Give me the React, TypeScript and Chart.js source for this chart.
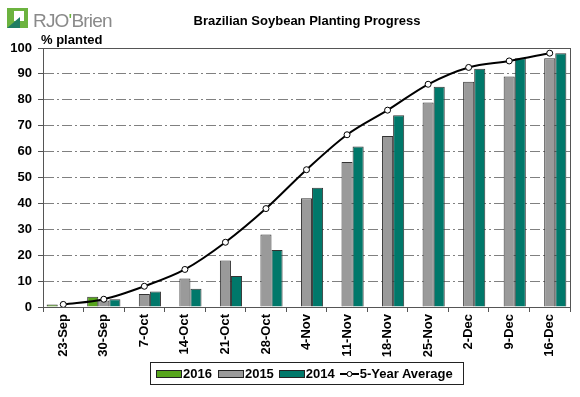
import React, { useEffect, useRef } from 'react';
import { Chart, registerables } from 'chart.js';

Chart.register(...registerables);

const categories = ['23-Sep', '30-Sep', '7-Oct', '14-Oct', '21-Oct', '28-Oct', '4-Nov', '11-Nov', '18-Nov', '25-Nov', '2-Dec', '9-Dec', '16-Dec'];
const series2016: (number | null)[] = [1, 4, null, null, null, null, null, null, null, null, null, null, null];
const series2015 = [0, 2.5, 5, 11, 18, 28, 42, 56, 66, 79, 87, 89, 96];
const series2014 = [0, 3, 6, 7, 12, 22, 46, 62, 74, 85, 92, 96, 98];
const avg5Year = [1, 3, 8, 14.5, 25, 38, 53, 66.5, 76, 86, 92.5, 95, 98];
const yMin = 0;
const yMax = 100;
const yStep = 10;

const GREEN = '#57a51c';
const GRAY = '#9a9a9a';
const TEAL = '#00786a';
const FONT = "'Liberation Sans', Arial, sans-serif";

const plotBorder = {
  id: 'plotBorder',
  beforeDatasetsDraw(chart: any) {
    const { ctx, chartArea } = chart;
    ctx.save();
    ctx.strokeStyle = '#555555';
    ctx.lineWidth = 1;
    ctx.strokeRect(Math.round(chartArea.left) + 0.5, Math.round(chartArea.top) + 0.5, Math.round(chartArea.right - chartArea.left), Math.round(chartArea.bottom - chartArea.top));
    ctx.restore();
  },
};

function Swatch({ color }: { color: string }) {
  return <div style={{ width: 24, height: 6, background: color, border: '1px solid #222', boxSizing: 'content-box' }} />;
}

export default function App() {
  const canvasRef = useRef<HTMLCanvasElement>(null);
  useEffect(() => {
    const c = canvasRef.current!;
    const chart = new Chart(c, {
      type: 'bar',
      data: {
        labels: categories,
        datasets: [
          { type: 'line', label: '5-Year Average', data: avg5Year, borderColor: '#000', borderWidth: 2, pointRadius: 3, pointBackgroundColor: '#fff', pointBorderColor: '#000', pointBorderWidth: 1, tension: 0.4, cubicInterpolationMode: 'monotone', order: 0 } as any,
          { label: '2016', data: series2016, backgroundColor: GREEN, borderColor: '#333', borderWidth: 1, borderSkipped: 'bottom', categoryPercentage: 0.82, barPercentage: 1, order: 1 } as any,
          { label: '2015', data: series2015, backgroundColor: GRAY, borderColor: '#333', borderWidth: 1, borderSkipped: 'bottom', categoryPercentage: 0.82, barPercentage: 1, order: 1 } as any,
          { label: '2014', data: series2014, backgroundColor: TEAL, borderColor: '#333', borderWidth: 1, borderSkipped: 'bottom', categoryPercentage: 0.82, barPercentage: 1, order: 1 } as any,
        ],
      },
      options: {
        responsive: false,
        animation: false,
        devicePixelRatio: 1,
        layout: { padding: { top: 48, right: 10, left: 0, bottom: 0 } },
        plugins: { legend: { display: false }, title: { display: false }, tooltip: { enabled: false } },
        scales: {
          x: {
            offset: true,
            grid: { offset: true, drawOnChartArea: false, drawTicks: true, tickLength: 5, tickColor: '#555' },
            border: { display: true, color: '#555', width: 1 },
            ticks: { autoSkip: false, maxRotation: 90, minRotation: 90, padding: 2, color: '#000', font: { family: FONT, size: 13, weight: 'bold' } },
            afterFit: (s: any) => { s.height = 90; },
          },
          y: {
            min: yMin,
            max: yMax,
            grid: {
              color: (ctx: any) => (ctx.tick && (ctx.tick.value === yMin || ctx.tick.value === yMax) ? 'rgba(0,0,0,0)' : '#808080'),
              tickColor: '#555',
              tickLength: 5,
              lineWidth: 1,
            },
            border: { display: true, color: '#555', width: 1, dash: [10, 3, 2, 3] },
            ticks: { stepSize: yStep, padding: 6, color: '#000', font: { family: FONT, size: 13, weight: 'bold' } },
            afterFit: (s: any) => { s.width = 43; },
          },
        },
      },
      plugins: [plotBorder],
    } as any);
    return () => chart.destroy();
  }, []);

  return (
    <div style={{ position: 'absolute', left: 0, top: 0, width: 580, height: 397, background: '#fff', fontFamily: FONT, overflow: 'hidden' }}>
      <canvas ref={canvasRef} width={580} height={397} style={{ position: 'absolute', left: 0, top: 0, width: 580, height: 397 }} />
      {/* logo */}
      <svg width={21} height={20} style={{ position: 'absolute', left: 7, top: 8 }}>
        <rect x={0} y={0} width={21} height={20} fill="#6cb33f" />
        <rect x={7} y={3} width={10} height={10} fill="#ffffff" />
        <polygon points="0,20 13,9 13,20" fill="#1e7d62" />
      </svg>
      <div style={{ position: 'absolute', left: 33, top: 10, fontSize: 19, lineHeight: '22px', color: '#8a8a8a', whiteSpace: 'nowrap', letterSpacing: -0.8 }}>
        RJO<span style={{ color: '#6cb33f' }}>'</span>Brien
      </div>
      <div style={{ position: 'absolute', left: 307, top: 13, transform: 'translateX(-50%)', fontSize: 13, fontWeight: 'bold', lineHeight: '16px', whiteSpace: 'nowrap' }}>
        Brazilian Soybean Planting Progress
      </div>
      <div style={{ position: 'absolute', left: 41, top: 32, fontSize: 13, fontWeight: 'bold', lineHeight: '16px', whiteSpace: 'nowrap' }}>
        % planted
      </div>
      {/* legend */}
      <div style={{ position: 'absolute', left: 150, top: 362, width: 307, height: 21, border: '1px solid #222', display: 'flex', alignItems: 'center', fontSize: 13, fontWeight: 'bold', whiteSpace: 'nowrap', paddingLeft: 5, boxSizing: 'content-box' }}>
        <Swatch color={GREEN} />
        <span style={{ marginLeft: 1 }}>2016</span>
        <div style={{ marginLeft: 6 }}><Swatch color={GRAY} /></div>
        <span style={{ marginLeft: 1 }}>2015</span>
        <div style={{ marginLeft: 5 }}><Swatch color={TEAL} /></div>
        <span style={{ marginLeft: 1 }}>2014</span>
        <svg width={19} height={10} style={{ marginLeft: 5 }}>
          <line x1={0} y1={5} x2={19} y2={5} stroke="#000" strokeWidth={2} />
          <circle cx={9.5} cy={5} r={2.5} fill="#fff" stroke="#000" strokeWidth={1} />
        </svg>
        <span style={{ marginLeft: 1 }}>5-Year Average</span>
      </div>
    </div>
  );
}
